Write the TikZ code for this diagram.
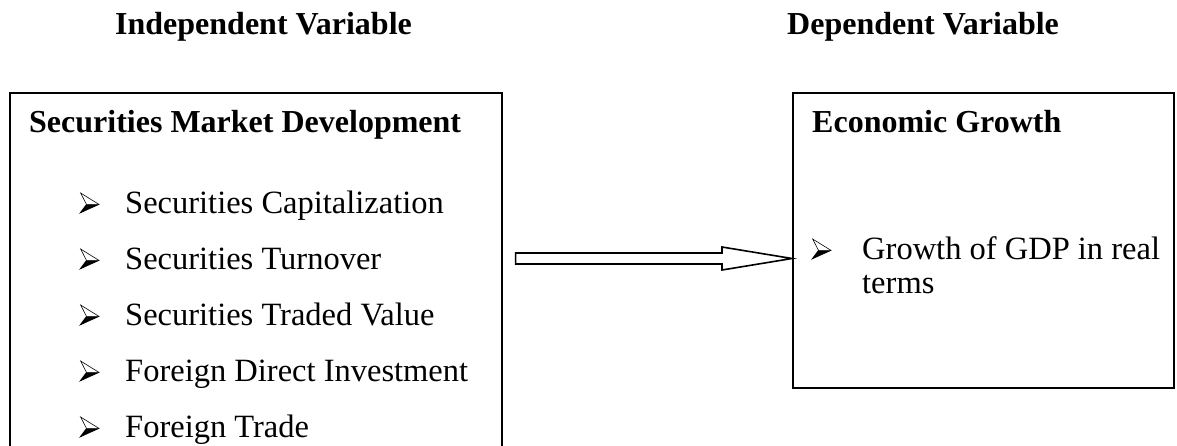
\documentclass[tikz,border=0pt]{standalone}
\usepackage{fontspec}
\setmainfont{Liberation Serif}
\usetikzlibrary{calc}
\tikzset{
  hdr/.style={anchor=base west, inner sep=0pt, font=\fontsize{32}{38}\selectfont\bfseries},
  ttl/.style={anchor=base west, inner sep=0pt, font=\fontsize{32}{38}\selectfont\bfseries},
  itm/.style={anchor=base west, inner sep=0pt, font=\fontsize{32.5}{38}\selectfont},
  boxline/.style={draw=black, line width=1.6pt, inner sep=0pt},
  fatarrow/.style={draw=black, fill=white, line width=1.6pt, line join=miter},
  bul/.pic={
    \fill[black] (6.5,8.6) -- (19,8.6) -- (0,0) -- cycle;
    \filldraw[fill=white, draw=black, line width=0.6pt, line join=miter] (0.6,20) -- (19,8.6) -- (6.5,8.6) -- cycle;
    \draw[black, line width=0.6pt] (19,8.6) -- (0,0) -- (6.5,8.6);
  }
}
\begin{document}
\begin{tikzpicture}[x=1pt,y=1pt]
\useasboundingbox (0,0) rectangle (1177,-445);
\begin{scope}
\clip (0,0) rectangle (1177,-445);
% headers
\node[hdr] (hind) at (115,-34) {Independent Variable};
\node[hdr] (hdep) at (787,-34) {Dependent Variable};
% boxes
\node[boxline, minimum width=492, minimum height=380, anchor=north west] (lbox) at (9,-92) {};
\node[boxline, minimum width=381, minimum height=295, anchor=north west] (rbox) at (792,-92) {};
% left box content
\node[ttl] (ltitle) at (29,-132) {Securities Market Development};
\foreach \i/\y/\t in {1/213/Securities Capitalization, 2/269/Securities Turnover, 3/325/Securities Traded Value, 4/381/Foreign Direct Investment, 5/437/Foreign Trade}{
  \pic at (80,-\y) {bul};
  \node[itm] (item\i) at (125,-\y) {\t};
}
% right box content
\node[ttl] (rtitle) at (812,-132) {Economic Growth};
\pic at (812,-259) {bul};
\node[itm] (gdp1) at (862,-259) {Growth of GDP in real};
\node[itm] (gdp2) at (862,-293) {terms};
% arrow
\coordinate (atip) at (rbox.west |- 0,-258.5);
\coordinate (atail) at ($(lbox.east |- atip)+(13,0)$);
\draw[fatarrow] ($(atail)+(0,5.5)$) -- ($(atip)+(-70,5.5)$) -- ($(atip)+(-70,11.5)$) -- (atip) -- ($(atip)+(-70,-11.5)$) -- ($(atip)+(-70,-5.5)$) -- ($(atail)+(0,-5.5)$) -- cycle;
\end{scope}
\end{tikzpicture}
\end{document}
